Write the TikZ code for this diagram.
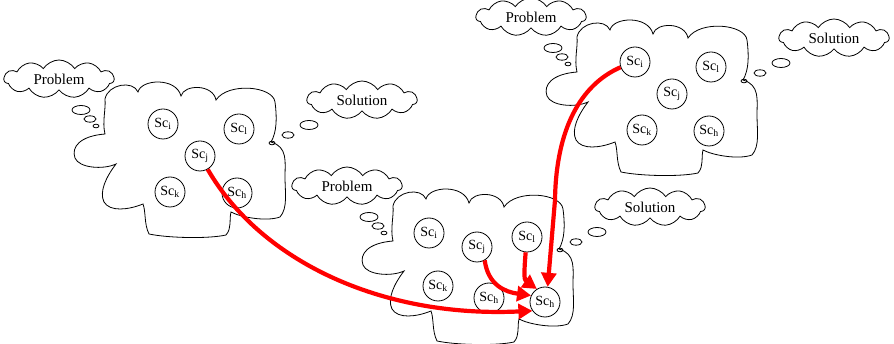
\documentclass[tikz,border=0pt]{standalone}
\usepackage{fontspec}
\setmainfont{Liberation Serif}
\usetikzlibrary{shapes.symbols,arrows.meta}
\tikzset{
  scnode/.style={draw, circle, minimum size=30pt, inner sep=0pt, font=\fontsize{14}{16}\selectfont, line width=0.8pt, fill=white},
  thought/.style={draw, cloud, cloud puffs=11, cloud puff arc=115, cloud ignores aspect, minimum width=110pt, minimum height=38pt, inner sep=1pt, font=\fontsize{15}{18}\selectfont, line width=0.8pt},
  bigcloud/.style={draw, line width=0.8pt},
  trail/.style={draw, line width=0.8pt},
  flow/.style={draw=red, line width=4.2pt, -{Triangle[length=14pt,width=15pt]}},
}
\newcommand{\cloudoutline}{%
  \draw[bigcloud] (577,72)
   .. controls (574,60) and (578,47) .. (577,37)
   .. controls (580,22) and (605,18) .. (610,30)
   .. controls (613,17) and (648,15) .. (653,34)
   .. controls (656,22) and (685,22) .. (688,38)
   .. controls (700,20) and (745,24) .. (747,40)
   .. controls (749,55) and (749,70) .. (743,80)
   .. controls (760,85) and (757,100) .. (757,115)
   .. controls (757,130) and (760,146) .. (752,155)
   .. controls (738,160) and (712,155) .. (703,150)
   .. controls (701,158) and (704,166) .. (698,173)
   .. controls (680,177) and (640,176) .. (621,172)
   .. controls (616,162) and (618,150) .. (615,142)
   .. controls (600,148) and (582,150) .. (576,140)
   .. controls (571,130) and (578,115) .. (588,102)
   .. controls (575,108) and (551,106) .. (547,96)
   .. controls (543,85) and (552,74) .. cycle;
  \draw[trail] (553,48) ellipse [x radius=9, y radius=4.5];
  \draw[trail] (562,57) ellipse [x radius=6, y radius=3.2];
  \draw[trail] (568,64) ellipse [x radius=3, y radius=1.8];
  \draw[trail] (781,63) ellipse [x radius=9, y radius=4.5];
  \draw[trail] (760,73) ellipse [x radius=6, y radius=3.2];
  \draw[trail] (744,81) ellipse [x radius=3, y radius=1.8];
}
\begin{document}
\begin{tikzpicture}[x=1pt,y=-1pt]
\useasboundingbox (0,0) rectangle (894,344);
% clouds
\begin{scope}\cloudoutline\end{scope}
\begin{scope}[shift={(-472,62)}]\cloudoutline\end{scope}
\begin{scope}[shift={(-184,169)}]\cloudoutline\end{scope}
% thought bubbles
\node[thought] (tp) at (531,17) {Problem};
\node[thought] (ts) at (834,38) {Solution};
\node[thought] (lp) at (59,79) {Problem};
\node[thought] (ls) at (362,100) {Solution};
\node[thought] (bp) at (347,186) {Problem};
\node[thought] (bs) at (650,207) {Solution};
% top-right cloud
\node[scnode] (ti) at (635,62) {Sc\textsubscript{i}};
\node[scnode] (tl) at (711,67) {Sc\textsubscript{l}};
\node[scnode] (tj) at (672,94) {Sc\textsubscript{j}};
\node[scnode] (tk) at (642,130) {Sc\textsubscript{k}};
\node[scnode] (th) at (709,131) {Sc\textsubscript{h}};
% left cloud
\node[scnode] (li) at (163,124) {Sc\textsubscript{i}};
\node[scnode] (ll) at (239,129) {Sc\textsubscript{l}};
\node[scnode] (lj) at (200,156) {Sc\textsubscript{j}};
\node[scnode] (lk) at (170,192) {Sc\textsubscript{k}};
\node[scnode] (lh) at (237,193) {Sc\textsubscript{h}};
% bottom cloud
\node[scnode] (bi) at (429,233) {Sc\textsubscript{i}};
\node[scnode] (bj) at (477,247) {Sc\textsubscript{j}};
\node[scnode] (bl) at (527,237) {Sc\textsubscript{l}};
\node[scnode] (bk) at (438,286) {Sc\textsubscript{k}};
\node[scnode] (bh) at (489,298) {Sc\textsubscript{h}};
\node[scnode] (bt) at (545,302) {Sc\textsubscript{h}};
% red flows
\draw[flow] (lj.-60) .. controls (260,260) and (380,318) .. (bt.215);
\draw[flow] (ti.200) .. controls (580,85) and (556,130) .. (555,200) -- (bt.80);
\draw[flow] (bj.-60) .. controls (488,285) and (505,292) .. (bt.155);
\draw[flow] (bl.-95) .. controls (524,272) and (524,280) .. (bt.122);
\end{tikzpicture}
\end{document}
